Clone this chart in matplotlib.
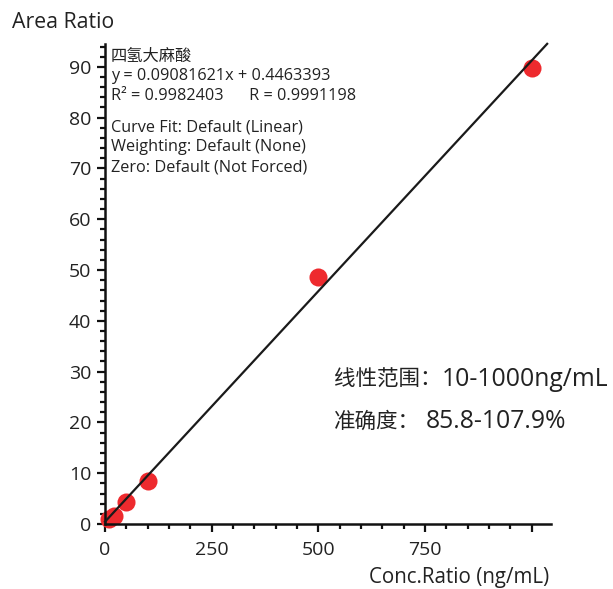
import matplotlib
matplotlib.use("Agg")
import matplotlib.pyplot as plt
from matplotlib.ticker import MultipleLocator, FixedLocator
import numpy as np

plt.rcParams['font.family'] = ['Open Sans', 'Noto Sans CJK SC', 'DejaVu Sans']

conc = [10, 20, 50, 100, 500, 1000]
area = [0.9, 1.5, 4.4, 8.4, 48.6, 89.7]
slope = 0.09081621
intercept = 0.4463393
fit_x = [0, 1036]
x_ticks = [0, 250, 500, 750]
y_ticks = [0, 10, 20, 30, 40, 50, 60, 70, 80, 90]
info_lines = ["四氢大麻酸", "y = 0.09081621x + 0.4463393", "R² = 0.9982403      R = 0.9991198",
              "Curve Fit: Default (Linear)", "Weighting: Default (None)", "Zero: Default (Not Forced)"]
note_labels = ["线性范围：", "准确度："]
note_values = ["10-1000ng/mL", "85.8-107.9%"]

W, H = 613, 589
fig = plt.figure(figsize=(W/100, H/100), dpi=100)
ax = fig.add_axes([105/W, (H-524)/H, (551-105)/W, (524-44)/H])

txt = '#222222'
ax.plot(fit_x, [slope*x + intercept for x in fit_x], color='#1a1a1a', lw=1.6, zorder=3, clip_on=False)
ax.plot(conc, area, 'o', color='#ee2a2e', ms=13, mec='none', zorder=2, clip_on=False)

ax.set_xlim(0, 1045)
ax.set_ylim(0, 94.5)
for s in ['top', 'right']:
    ax.spines[s].set_visible(False)
for s in ['left', 'bottom']:
    ax.spines[s].set_linewidth(1.8)
    ax.spines[s].set_color('#111111')

ax.xaxis.set_major_locator(FixedLocator(x_ticks + [1000]))
ax.set_xticklabels([str(v) for v in x_ticks] + [''])
ax.xaxis.set_minor_locator(MultipleLocator(50))
ax.yaxis.set_major_locator(FixedLocator(y_ticks))
ax.set_yticklabels([str(v) for v in y_ticks])
ax.yaxis.set_minor_locator(MultipleLocator(2))
ax.tick_params(which='major', length=6, width=1.6, color='#111111', labelsize=14, labelcolor=txt)
ax.tick_params(axis='x', which='major', pad=6)
ax.tick_params(axis='y', which='major', pad=4)
ax.tick_params(which='minor', length=3.5, width=1.6, color='#111111')

fig.text(12/W, 1-22/H, "Area Ratio", fontsize=15.3, color=txt, va='center', ha='left')
fig.text(549/W, 1-578/H, "Conc.Ratio (ng/mL)", fontsize=14.8, color=txt, va='center', ha='right')

ys = [57, 76, 96, 127, 147, 167]
for line, yy in zip(info_lines, ys):
    fig.text(111/W, 1-yy/H, line, fontsize=11.7, color=txt, va='center', ha='left')

for lab, val, yy, xv in zip(note_labels, note_values, [380, 422], [442, 426]):
    fig.text(334/W, 1-yy/H, lab, fontsize=15.5, color=txt, va='center', ha='left')
    fig.text(xv/W, 1-yy/H, val, fontsize=17.8, color=txt, va='center', ha='left')

fig.savefig("out.png", dpi=100)
